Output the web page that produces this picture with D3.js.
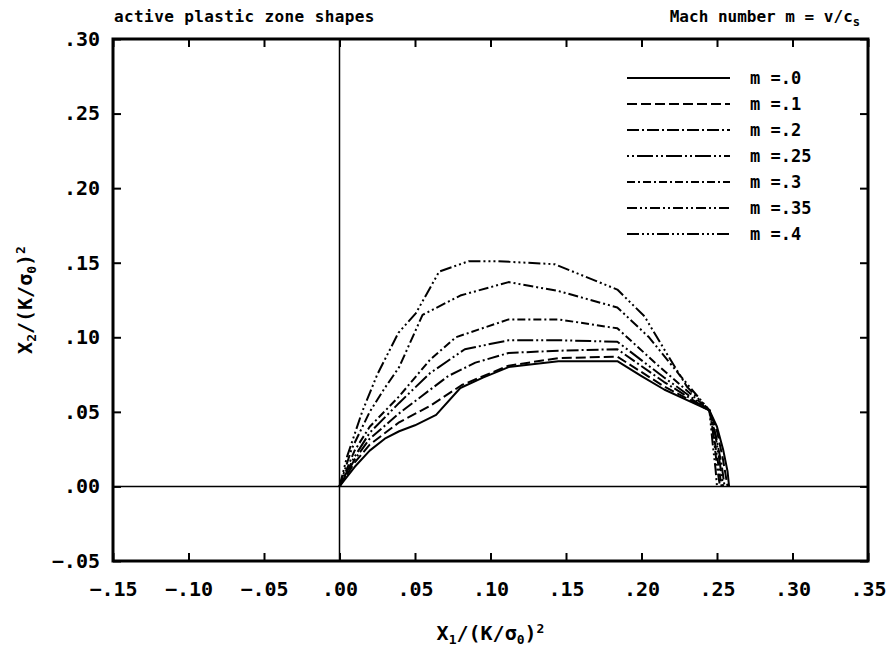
<!DOCTYPE html>
<html><head><meta charset="utf-8">
<script src="https://cdn.jsdelivr.net/npm/d3@7"></script>
<style>body{margin:0;background:#fff}</style>
</head><body><svg id="c" width="894" height="647"></svg>
<script>
// ---- data ----
const seriesLabels = ["m =.0", "m =.1", "m =.2", "m =.25", "m =.3", "m =.35", "m =.4"];
const m00 = [[0,0],[0.01,0.013],[0.02,0.024],[0.03,0.032],[0.0395,0.037],[0.05,0.041],[0.064,0.048],[0.08,0.066],[0.095,0.073],[0.112,0.08],[0.145,0.084],[0.184,0.084],[0.2,0.074],[0.215,0.065],[0.232,0.057],[0.245,0.051],[0.25,0.04],[0.254,0.025],[0.257,0.01],[0.258,0]];
const m10 = [[0,0],[0.01,0.016],[0.02,0.028],[0.0395,0.043],[0.06,0.054],[0.081,0.068],[0.112,0.081],[0.145,0.086],[0.184,0.087],[0.215,0.067],[0.245,0.051],[0.25,0.037],[0.254,0.018],[0.257,0]];
const m20 = [[0,0],[0.01,0.018],[0.02,0.032],[0.0395,0.049],[0.055,0.061],[0.072,0.074],[0.09,0.083],[0.112,0.0895],[0.145,0.091],[0.184,0.092],[0.215,0.07],[0.245,0.051],[0.249,0.035],[0.253,0.015],[0.255,0]];
const m25 = [[0,0],[0.01,0.02],[0.02,0.036],[0.0395,0.056],[0.06,0.076],[0.083,0.092],[0.112,0.098],[0.145,0.098],[0.184,0.097],[0.215,0.073],[0.245,0.051],[0.249,0.034],[0.252,0.015],[0.254,0]];
const m30 = [[0,0],[0.01,0.024],[0.02,0.04],[0.0395,0.0604],[0.06,0.085],[0.077,0.1],[0.112,0.112],[0.145,0.112],[0.184,0.106],[0.21,0.082],[0.245,0.051],[0.248,0.033],[0.251,0.014],[0.253,0]];
const m35 = [[0,0],[0.008,0.025],[0.02,0.05],[0.03,0.066],[0.0395,0.08],[0.055,0.115],[0.08,0.128],[0.112,0.137],[0.145,0.131],[0.184,0.12],[0.205,0.1],[0.225,0.075],[0.245,0.051],[0.248,0.032],[0.25,0.013],[0.252,0]];
const m40 = [[0,0],[0.005,0.02],[0.015,0.05],[0.025,0.075],[0.039,0.103],[0.0505,0.116],[0.066,0.144],[0.0855,0.151],[0.105,0.151],[0.1425,0.149],[0.184,0.132],[0.202,0.114],[0.215,0.092],[0.23,0.067],[0.245,0.051],[0.247,0.03],[0.249,0.012],[0.25,0]];
const seriesData = [m00, m10, m20, m25, m30, m35, m40];
const xTickValues = [-0.15, -0.10, -0.05, 0.00, 0.05, 0.10, 0.15, 0.20, 0.25, 0.30, 0.35];
const yTickValues = [-0.05, 0.00, 0.05, 0.10, 0.15, 0.20, 0.25, 0.30];
const xTickLabels = ["\u2212.15", "\u2212.10", "\u2212.05", ".00", ".05", ".10", ".15", ".20", ".25", ".30", ".35"];
const yTickLabels = ["\u2212.05", ".00", ".05", ".10", ".15", ".20", ".25", ".30"];

// ---- styles ----
const dashStyles = [null, "10,4", "12,3,2,3", "2,3,2,3,16,3", "8,3,2,3", "10,3,2,3,2,3", "12,3,2,3,2,3,2,3"];
const L = 113, R = 868, T = 39, B = 561;
const mono = "'DejaVu Sans Mono', 'Liberation Mono', monospace";

const svg = d3.select("#c");
const x = d3.scaleLinear().domain([-0.15, 0.35]).range([L, R]);
const y = d3.scaleLinear().domain([-0.05, 0.30]).range([B, T]);

// zero lines
svg.append("line").attr("x1", x(0)).attr("x2", x(0)).attr("y1", T).attr("y2", B)
  .attr("stroke", "#000").attr("stroke-width", 1.5);
svg.append("line").attr("x1", L).attr("x2", R).attr("y1", y(0)).attr("y2", y(0))
  .attr("stroke", "#000").attr("stroke-width", 1.5);

function styleAxis(g) {
  g.select(".domain").remove();
  g.selectAll(".tick line").attr("stroke", "#000").attr("stroke-width", 2);
  g.selectAll(".tick text").attr("fill", "#000").attr("font-family", mono)
    .attr("font-weight", "bold").attr("font-size", 20);
}
svg.append("g").attr("transform", `translate(0,${B})`)
  .call(d3.axisBottom(x).tickValues(xTickValues).tickSize(-8).tickPadding(21)
    .tickFormat((d, i) => xTickLabels[i]))
  .call(styleAxis);
svg.append("g").attr("transform", `translate(0,${T})`)
  .call(d3.axisTop(x).tickValues(xTickValues).tickSize(-8).tickFormat(""))
  .call(styleAxis);
svg.append("g").attr("transform", `translate(${L},0)`)
  .call(d3.axisLeft(y).tickValues(yTickValues).tickSize(-8).tickPadding(13)
    .tickFormat((d, i) => yTickLabels[i]))
  .call(styleAxis);
svg.append("g").attr("transform", `translate(${R},0)`)
  .call(d3.axisRight(y).tickValues(yTickValues).tickSize(-8).tickFormat(""))
  .call(styleAxis);

// frame
svg.append("rect").attr("x", L).attr("y", T).attr("width", R - L).attr("height", B - T)
  .attr("fill", "none").attr("stroke", "#000").attr("stroke-width", 3);

// curves
const line = d3.line().x(d => x(d[0])).y(d => y(d[1]));
seriesData.forEach((s, i) => {
  svg.append("path").datum(s).attr("d", line).attr("fill", "none")
    .attr("stroke", "#000").attr("stroke-width", 2)
    .attr("stroke-linejoin", "round")
    .attr("stroke-dasharray", dashStyles[i]);
});

// legend
const legY = d3.scaleLinear().domain([0, 6]).range([78, 234]);
seriesLabels.forEach((lab, i) => {
  svg.append("line").attr("x1", 627).attr("x2", 730).attr("y1", legY(i)).attr("y2", legY(i))
    .attr("stroke", "#000").attr("stroke-width", 2).attr("stroke-dasharray", dashStyles[i]);
  svg.append("text").attr("x", 750).attr("y", legY(i) + 6).text(lab)
    .attr("font-family", mono).attr("font-weight", "bold").attr("font-size", 17);
});

// titles
svg.append("text").attr("x", 114).attr("y", 22).text("active plastic zone shapes")
  .attr("font-family", mono).attr("font-weight", "bold").attr("font-size", 16)
  .attr("letter-spacing", 0.4);
const mt = svg.append("text").attr("x", 860).attr("y", 22).attr("text-anchor", "end")
  .attr("font-family", mono).attr("font-weight", "bold").attr("font-size", 16);
mt.append("tspan").text("Mach number m = v/c");
mt.append("tspan").text("s").attr("font-size", 12).attr("dy", 4);

// axis titles
function axisTitle(t, sub) {
  t.append("tspan").text("X");
  t.append("tspan").text(sub).attr("font-size", 13).attr("dy", 4);
  t.append("tspan").text("/(K/\u03c3").attr("dy", -4);
  t.append("tspan").text("0").attr("font-size", 13).attr("dy", 4);
  t.append("tspan").text(")").attr("dy", -4);
  t.append("tspan").text("2").attr("font-size", 13).attr("dy", -7);
}
const xt = svg.append("text").attr("x", (L + R) / 2).attr("y", 640).attr("text-anchor", "middle")
  .attr("font-family", mono).attr("font-weight", "bold").attr("font-size", 20);
axisTitle(xt, "1");
const yt = svg.append("text").attr("transform", `translate(32,${(T + B) / 2}) rotate(-90)`)
  .attr("text-anchor", "middle")
  .attr("font-family", mono).attr("font-weight", "bold").attr("font-size", 20);
axisTitle(yt, "2");
</script></body></html>
